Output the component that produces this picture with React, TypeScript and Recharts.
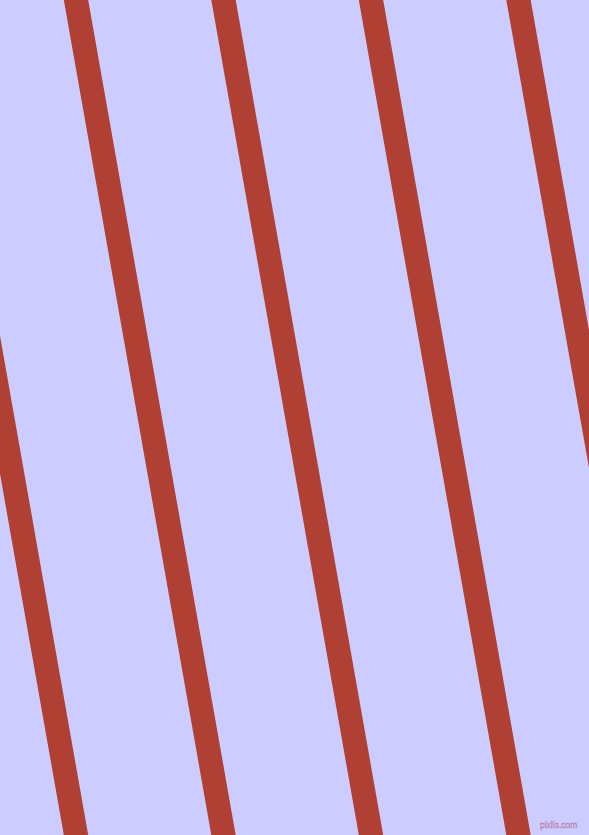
import { LineChart, Line, XAxis, YAxis } from 'recharts';

const WIDTH = 589;
const HEIGHT = 835;

// x position of each stripe's centre where it crosses the top (y = 0) and bottom (y = 835) edges
const stripeTopX = [-71.5, 76, 223.5, 371, 518.5];
const stripeBottomX = [76, 223.5, 371, 518.5, 666];
const edgeY = [0, 835];

const stripes = stripeTopX.map((top, i) => [
  { x: top, y: edgeY[0] },
  { x: stripeBottomX[i], y: edgeY[1] },
]);

export default function App() {
  return (
    <div
      style={{
        position: 'fixed',
        top: 0,
        left: 0,
        width: WIDTH,
        height: HEIGHT,
        background: '#ccccff',
        overflow: 'hidden',
      }}
    >
      <LineChart width={WIDTH} height={HEIGHT} margin={{ top: 0, right: 0, bottom: 0, left: 0 }}>
        <XAxis dataKey="x" type="number" domain={[0, WIDTH]} allowDataOverflow hide />
        <YAxis dataKey="y" type="number" domain={[0, HEIGHT]} reversed allowDataOverflow hide />
        {stripes.map((pts, i) => (
          <Line
            key={i}
            data={pts}
            dataKey="y"
            stroke="#b04034"
            strokeWidth={24}
            strokeLinecap="square"
            dot={false}
            activeDot={false}
            isAnimationActive={false}
          />
        ))}
      </LineChart>
      <div
        style={{
          position: 'absolute',
          left: 540,
          top: 819,
          fontFamily: 'Liberation Sans, Arial, sans-serif',
          fontSize: 8.5,
          color: '#e2a9d4',
          WebkitTextStroke: '0.3px #a070a8',
          lineHeight: '12px',
        }}
      >
        pixlis.com
      </div>
    </div>
  );
}
